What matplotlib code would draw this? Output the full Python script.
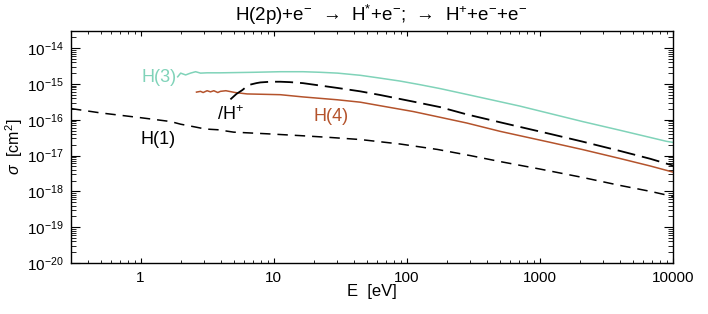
"""Cross sections for H(2p) + e- : excitation to H(n) and ionisation, log-log plot"""

import numpy as np
import matplotlib
matplotlib.use("Agg")
import matplotlib.pyplot as plt
import matplotlib.ticker as ticker

#Fonts (Helvetica-like look)
plt.rcParams['font.family'] = ['Liberation Sans', 'DejaVu Sans']
plt.rcParams['mathtext.fontset'] = 'custom'
plt.rcParams['mathtext.rm'] = 'Liberation Sans'
plt.rcParams['mathtext.it'] = 'Liberation Sans:italic'
plt.rcParams['mathtext.bf'] = 'Liberation Sans:bold'

#Data (E in eV, sigma in cm^2)
e_h1 = [0.30, 0.50, 1.0, 1.68, 2.0, 2.5, 3.07, 3.8, 5.0, 8.9, 15.8, 26.6,
        44.7, 89, 170, 299, 501, 1000, 2090, 3980, 6760, 10000]
s_h1 = [2.05e-16, 1.55e-16, 1.14e-16, 8.9e-17, 7.5e-17, 6.4e-17, 5.5e-17,
        5.25e-17, 4.5e-17, 4.05e-17, 3.6e-17, 3.2e-17, 2.8e-17, 2.1e-17,
        1.48e-17, 1.0e-17, 6.8e-18, 4.2e-18, 2.45e-18, 1.47e-18, 1.0e-18, 7.2e-19]

e_h3 = [1.90, 2.00, 2.18, 2.37, 2.59, 2.82, 3.16, 3.98, 7.08, 11.2, 16.6,
        22.4, 30.2, 44.7, 63.1, 89.1, 126, 178, 282, 447, 708, 1200, 2090,
        3980, 8910, 10000]
s_h3 = [1.58e-15, 2.0e-15, 1.78e-15, 2.0e-15, 2.19e-15, 2.0e-15, 2.04e-15,
        2.04e-15, 2.11e-15, 2.19e-15, 2.19e-15, 2.11e-15, 2.0e-15, 1.74e-15,
        1.45e-15, 1.2e-15, 9.5e-16, 7.4e-16, 5.1e-16, 3.5e-16, 2.4e-16,
        1.48e-16, 8.9e-17, 5.1e-17, 2.5e-17, 2.33e-17]

e_h4 = [2.63, 2.82, 2.95, 3.16, 3.35, 3.55, 3.80, 3.98, 4.37, 5.13, 6.31,
        11.2, 16.6, 30.2, 44.7, 63.1, 112, 178, 282, 501, 708, 1200, 2090,
        3980, 6760, 10000]
s_h4 = [5.9e-16, 6.2e-16, 5.75e-16, 6.45e-16, 6.0e-16, 6.45e-16, 5.75e-16,
        6.2e-16, 6.45e-16, 5.75e-16, 5.25e-16, 5.0e-16, 4.33e-16, 3.6e-16,
        3.09e-16, 2.46e-16, 1.69e-16, 1.17e-16, 8.1e-17, 4.75e-17, 3.58e-17,
        2.33e-17, 1.47e-17, 8.3e-18, 5.1e-18, 3.45e-18]

e_hp = [4.73, 5.25, 5.82, 6.46, 7.4, 7.94, 9.44, 11.2, 13.3, 16.6, 30.2,
        44.7, 63.1, 112, 178, 282, 501, 708, 1200, 2090, 3980, 6760, 10000]
s_hp = [3.7e-16, 5.25e-16, 6.75e-16, 9.3e-16, 1.05e-15, 1.1e-15, 1.15e-15,
        1.15e-15, 1.12e-15, 1.05e-15, 7.7e-16, 6.2e-16, 4.9e-16, 3.2e-16,
        2.25e-16, 1.41e-16, 8.5e-17, 6.3e-17, 4.0e-17, 2.45e-17, 1.35e-17,
        8.1e-18, 5.25e-18]

x_ticks = [1, 10, 100, 1000, 10000]
y_ticks = [1e-20, 1e-19, 1e-18, 1e-17, 1e-16, 1e-15, 1e-14]

#Colours
green = "#80d3b9"
brown = "#b4532c"

#Figure 708x314 px
fig = plt.figure(figsize=(7.08, 3.14), dpi=100)
W, H = 708, 314
ax = fig.add_axes([71 / W, 1 - 263 / H, 602 / W, 232 / H])

lw = 1.1
ax.plot(e_h1, s_h1, color="black", lw=lw, dashes=(7.5 / lw, 5 / lw))
ax.plot(e_h3, s_h3, color=green, lw=lw)
ax.plot(e_h4, s_h4, color=brown, lw=lw)
ax.plot(e_hp, s_hp, color="black", lw=1.3, dashes=(13 / 1.3, 5 / 1.3))

ax.set_xscale("log")
ax.set_yscale("log")
ax.set_xlim(0.3, 10000)
ax.set_ylim(1e-20, 3e-14)

#Ticks
ax.xaxis.set_major_locator(ticker.FixedLocator(x_ticks))
ax.xaxis.set_major_formatter(ticker.FuncFormatter(lambda v, _: f"{v:g}"))
ax.xaxis.set_minor_locator(ticker.LogLocator(base=10, subs=np.arange(2, 10), numticks=100))
ax.yaxis.set_major_locator(ticker.FixedLocator(y_ticks))
ax.yaxis.set_major_formatter(ticker.LogFormatterMathtext())
ax.yaxis.set_minor_locator(ticker.LogLocator(base=10, subs=np.arange(2, 10), numticks=100))
ax.yaxis.set_minor_formatter(ticker.NullFormatter())
ax.xaxis.set_minor_formatter(ticker.NullFormatter())

ax.tick_params(which="both", direction="in", top=True, right=True, labelsize=11)
ax.tick_params(axis="x", which="major", length=3.6, pad=6)
ax.tick_params(axis="x", which="minor", length=2)
ax.tick_params(axis="y", which="major", length=6.5, pad=5.5)
ax.tick_params(axis="y", which="minor", length=3.6)
for sp in ax.spines.values():
    sp.set_linewidth(1)

#Labels
ax.set_xlabel("E  [eV]", fontsize=12, labelpad=-1)
ax.set_ylabel(r"$\sigma$  [cm$^2$]", fontsize=11.5, labelpad=1)
fig.text(381 / W, 1 - 15 / H,
         r"H(2p)+e$^{-}$  →  H$^{*}$+e$^{-}$;  →  H$^{+}$+e$^{-}$+e$^{-}$",
         ha="center", va="center", fontsize=13.5)

#Curve labels
ax.text(1.86, 1.47e-15, "H(3)", color=green, fontsize=13, ha="right", va="center")
ax.text(3.78, 1.38e-16, r"/H$^{+}$", color="black", fontsize=13, ha="left", va="center")
ax.text(19.9, 1.2e-16, "H(4)", color=brown, fontsize=13, ha="left", va="center")
ax.text(1.0, 2.78e-17, "H(1)", color="black", fontsize=13, ha="left", va="center")

fig.savefig("out.png", dpi=100)
